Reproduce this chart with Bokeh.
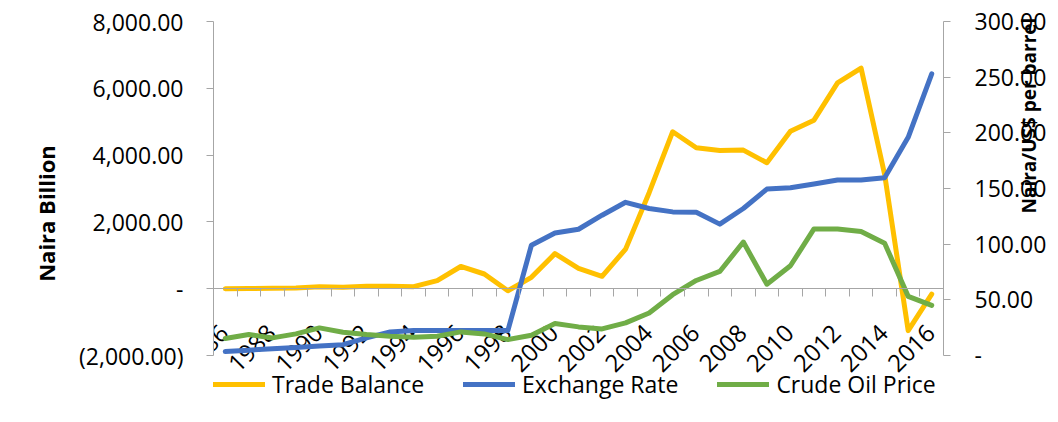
import math
from bokeh.plotting import figure
from bokeh.models import (Range1d, LinearAxis, FixedTicker, Legend, LegendItem,
                          ColumnDataSource)
from bokeh.core.properties import value
from bokeh.embed import file_html
from bokeh.resources import INLINE

# ---------------- data ----------------
years = list(range(1986, 2017))
trade_balance = [0, 5, 10, 20, 60, 40, 70, 70, 60, 240, 665, 440, -60, 340,
                 1050, 610, 370, 1185, 2875, 4700, 4220, 4140, 4150, 3770,
                 4715, 5045, 6160, 6605, 3420, -1255, -160]
exchange_rate = [3.6, 4.8, 6.0, 7.2, 8.5, 9.7, 15.8, 21.2, 22.4, 22.4, 22.4,
                 22.4, 22.4, 99.0, 110.0, 113.4, 126.0, 137.6, 132.0, 129.0,
                 128.6, 118.0, 132.0, 149.5, 150.7, 154.0, 157.6, 157.6,
                 159.7, 196.0, 253.0]
crude_oil = [15.2, 18.8, 15.8, 19.4, 24.8, 20.9, 18.8, 17.3, 16.4, 17.3, 21.2,
             19.4, 14.3, 18.2, 28.7, 25.7, 23.9, 29.3, 38.2, 54.6, 67.4, 75.5,
             101.9, 64.0, 80.6, 113.7, 113.7, 111.3, 100.9, 53.1, 45.0]
left_ticks = [-2000, 0, 2000, 4000, 6000, 8000]
right_ticks = [0, 50, 100, 150, 200, 250, 300]
year_labels = [str(y) for y in years if y % 2 == 0]
series_names = ["Trade Balance", "Exchange Rate", "Crude Oil Price"]
colors = ["#FFC000", "#4472C4", "#70AD47"]
left_title = "Naira Billion"
right_title = "Naira/US$ per barrel"


def acct(v):
    if v == 0:
        return "-"
    if v < 0:
        return "({:,.2f})".format(abs(v))
    return "{:,.2f}".format(v)


FONT = "Open Sans"
AXIS_GREY = "#a6a6a6"
TXT = "#000000"

# layout (pixels)
W, H = 1058, 422
TOP, AXIS_PX, EXTRA_PX = 21, 334, 50     # axes span 334px; frame continues 50px lower
BOTTOM = H - TOP - AXIS_PX - EXTRA_PX

l_span = left_ticks[-1] - left_ticks[0]
r_span = right_ticks[-1] - right_ticks[0]
l_low = left_ticks[0] - l_span * EXTRA_PX / AXIS_PX
r_low = right_ticks[0] - r_span * EXTRA_PX / AXIS_PX

p = figure(width=W, height=H,
           x_range=Range1d(years[0] - 0.5, years[-1] + 0.5),
           y_range=Range1d(l_low, left_ticks[-1]),
           output_backend="svg", toolbar_location=None,
           min_border_left=213, min_border_right=110,
           min_border_top=TOP, min_border_bottom=BOTTOM)
p.extra_y_ranges = {"usd": Range1d(r_low, right_ticks[-1])}
p.xgrid.visible = False
p.ygrid.visible = False
p.outline_line_color = None
p.background_fill_color = "white"
p.border_fill_color = "white"

# x axis: line at zero with tick marks between categories
xa = p.xaxis[0]
xa.fixed_location = 0
xa.ticker = FixedTicker(ticks=[y - 0.5 for y in years] + [years[-1] + 0.5])
xa.major_tick_out = 8
xa.major_tick_in = 0
xa.minor_tick_line_color = None
xa.axis_line_color = AXIS_GREY
xa.major_tick_line_color = AXIS_GREY
xa.major_label_text_font_size = "0px"
xa.major_label_standoff = 2

# left axis
ya = p.yaxis[0]
ya.bounds = (left_ticks[0], left_ticks[-1])
ya.ticker = FixedTicker(ticks=left_ticks)
ya.major_label_overrides = {v: acct(v) for v in left_ticks}
ya.major_tick_out = 7
ya.major_tick_in = 0
ya.minor_tick_line_color = None
ya.axis_line_color = AXIS_GREY
ya.major_tick_line_color = AXIS_GREY
ya.major_label_standoff = 23
ya.major_label_text_font = FONT
ya.major_label_text_font_size = "23px"
ya.major_label_text_color = TXT
ya.axis_label = left_title
ya.axis_label_text_font = FONT
ya.axis_label_text_font_style = "bold"
ya.axis_label_text_font_size = "22px"
ya.axis_label_text_color = TXT
ya.axis_label_standoff = 15

# right axis
ra = LinearAxis(y_range_name="usd", ticker=FixedTicker(ticks=right_ticks),
                bounds=(right_ticks[0], right_ticks[-1]))
ra.major_label_overrides = {v: acct(v) for v in right_ticks}
ra.major_tick_out = 7
ra.major_tick_in = 0
ra.minor_tick_line_color = None
ra.axis_line_color = AXIS_GREY
ra.major_tick_line_color = AXIS_GREY
ra.major_label_standoff = 24
ra.major_label_text_font = FONT
ra.major_label_text_font_size = "23px"
ra.major_label_text_color = TXT
ra.axis_label = right_title
ra.axis_label_text_font = FONT
ra.axis_label_text_font_style = "bold"
ra.axis_label_text_font_size = "19px"
ra.axis_label_text_color = TXT
ra.axis_label_standoff = -20
ra.axis_label_text_align = "center"
try:
    ra.axis_label_orientation = math.pi / 2
except Exception:
    pass
p.add_layout(ra, "right")

# year labels along the zero line
lab_src = ColumnDataSource(dict(x=[int(t) for t in year_labels],
                                y=[0] * len(year_labels),
                                text=year_labels))
p.text(x="x", y="y", text="text", source=lab_src, angle=math.pi / 4,
       text_align="right", text_baseline="middle", x_offset=-1, y_offset=40,
       text_font=value(FONT), text_font_size="24px", text_color=TXT)

# series
src = ColumnDataSource(dict(year=years, tb=trade_balance, er=exchange_rate, oil=crude_oil))
r1 = p.line("year", "tb", source=src, color=colors[0], line_width=5,
            line_join="round", line_cap="round")
r2 = p.line("year", "er", source=src, color=colors[1], line_width=5,
            line_join="round", line_cap="round", y_range_name="usd")
r3 = p.line("year", "oil", source=src, color=colors[2], line_width=5,
            line_join="round", line_cap="round", y_range_name="usd")

legend = Legend(items=[LegendItem(label=series_names[0], renderers=[r1]),
                       LegendItem(label=series_names[1], renderers=[r2]),
                       LegendItem(label=series_names[2], renderers=[r3])],
                orientation="horizontal", location=(0, 5),
                glyph_width=52, glyph_height=20, label_standoff=7, spacing=39,
                padding=0, margin=0, border_line_color=None,
                background_fill_alpha=0,
                label_text_font=FONT, label_text_font_size="23px",
                label_text_color=TXT)
p.add_layout(legend, "center")

open("out.html", "w").write(file_html(p, INLINE))
